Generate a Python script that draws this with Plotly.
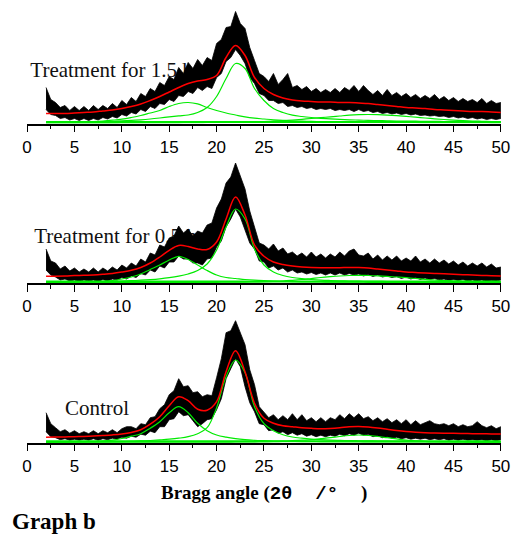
import plotly.graph_objects as go

# ---------------- data (intensity in arbitrary units) ----------------
X_FIT = list(range(2, 51))            # 2θ grid (1°) for fit curves
X_STEP_BAND = 0.5                      # 2θ grid step for the noisy-data envelope (starts at 2°)

PANEL_LABELS = ["Treatment for 1.5 h", "Treatment for 0.5 h", "Control"]
TICK_VALUES = [0, 5, 10, 15, 20, 25, 30, 35, 40, 45, 50]
TICK_LABELS = ["0", "5", "10", "15", "20", "25", "30", "35", "40", "45", "50"]

# --- Treatment for 1.5 h ---
raw_upper_15h = [36, 24, 21, 16, 18, 13, 17, 13, 17, 13,
                 18, 14, 18, 15, 20, 16, 23, 19, 26, 22,
                 30, 27, 35, 32, 41, 38, 47, 44, 56, 50,
                 61, 55, 64, 58, 66, 63, 80, 84, 96, 97,
                 112, 100, 95, 76, 63, 50, 47, 42, 50, 39,
                 44, 50, 36, 38, 34, 37, 32, 35, 31, 34,
                 31, 35, 31, 36, 33, 38, 32, 38, 33, 29,
                 33, 28, 34, 28, 31, 27, 30, 26, 29, 25,
                 28, 25, 29, 24, 27, 23, 26, 22, 25, 22,
                 24, 21, 25, 20, 23, 20, 21]
raw_lower_15h = [14, 9, 8, 5, 6, 3.5, 5, 3, 5, 3,
                 5, 3.5, 6, 4.5, 7, 5.5, 9, 7.5, 11, 9.5,
                 14, 12, 17, 15, 20, 19, 24, 22, 28, 27,
                 32, 30, 36, 33, 37, 35, 46, 50, 62, 66,
                 74, 68, 60, 46, 40, 30, 28, 23, 23, 20,
                 21, 17, 18, 16, 17, 15, 16, 14, 15, 14,
                 15, 13, 14, 13, 14, 12, 14, 12, 13, 11,
                 12, 10, 11, 9.5, 10.5, 9, 10, 8.5, 9.5, 8,
                 8.5, 7.5, 8, 7, 7.5, 6, 7, 5.5, 6.5, 5,
                 6, 4.5, 5.5, 4, 5, 4, 5]
fit_15h = [10, 10, 10, 10.5, 11, 11.5, 12.5, 13.5, 15, 17,
           19.5, 23, 27, 31.5, 36, 40, 42.5, 44, 48, 66,
           78, 68, 46, 35, 29, 25.5, 23.5, 22.5, 22, 21.5,
           21.5, 21, 21, 20.5, 20, 19, 18, 17, 16, 15.5,
           15, 14, 13.5, 13, 12.5, 12, 12, 11.5, 11]
peak16_15h = [1, 1.1, 1.2, 1.4, 1.7, 2, 2.5, 3.3, 4.3, 6,
              8, 10.5, 13, 17, 20, 21, 19.6, 16, 13, 10.5,
              8.5, 6.6, 5.3, 4.5, 3.7, 3.1, 2.7, 2.4, 2.1, 1.9,
              1.7, 1.6, 1.5, 1.4, 1.3, 1.2, 1.1, 1.1, 1, 1,
              0.9, 0.9, 0.9, 0.8, 0.8, 0.8, 0.8, 0.7, 0.7]
peak22_15h = [1, 1.1, 1.2, 1.4, 1.5, 1.7, 1.9, 2.2, 2.6, 3.1,
              3.7, 4.5, 5.5, 6.6, 7.6, 8.5, 11, 16, 27, 45,
              60, 55, 35, 23, 15, 11, 8.3, 7, 6, 5.2,
              4.6, 4.1, 3.7, 3.4, 3.1, 2.9, 2.7, 2.5, 2.4, 2.3,
              2.2, 2.1, 2, 1.9, 1.8, 1.7, 1.7, 1.6, 1.6]
peak35_15h = [0.3, 0.3, 0.3, 0.3, 0.3, 0.4, 0.4, 0.4, 0.5, 0.5,
              0.5, 0.6, 0.6, 0.7, 0.7, 0.8, 0.9, 1, 1.1, 1.2,
              1.3, 1.5, 1.7, 2, 2.4, 2.9, 3.5, 4.2, 5, 5.8,
              6.7, 7.5, 8.3, 8.8, 9, 8.8, 8.4, 7.8, 7.1, 6.3,
              5.5, 4.7, 4, 3.4, 2.9, 2.5, 2.2, 1.9, 1.6]
flat_15h = [1.4, 1.4]

# --- Treatment for 0.5 h ---
raw_upper_05h = [34, 22, 20, 14, 17, 12, 15, 11, 14, 11,
                 15, 11, 15, 12, 16, 13, 18, 15, 20, 17,
                 24, 21, 30, 28, 38, 36, 45, 47, 57, 50,
                 54, 47, 52, 50, 58, 60, 75, 84, 100, 106,
                 120, 108, 94, 72, 56, 40, 38, 34, 39, 32,
                 35, 29, 31, 27, 30, 26, 31, 26, 29, 25,
                 29, 26, 31, 27, 32, 34, 28, 27, 30, 24,
                 28, 23, 27, 23, 27, 22, 25, 22, 27, 21,
                 24, 20, 24, 20, 23, 19, 22, 18, 21, 17,
                 20, 17, 20, 16, 19, 15, 16]
raw_lower_05h = [13, 8, 6, 3, 4, 2, 3, 1.5, 3, 2,
                 3, 1.5, 3.5, 2, 4, 3, 5.5, 4, 7, 5.5,
                 9.5, 8, 13, 11, 17, 15, 21, 21, 27, 24,
                 24, 20, 20, 18, 24, 25, 36, 42, 56, 64,
                 74, 66, 54, 40, 34, 22, 21, 15, 17, 13,
                 15, 11, 13, 10, 11, 9, 10.5, 8.5, 10, 8,
                 10, 8, 10, 8, 9.5, 8, 9, 7, 8.5, 6.5,
                 8, 6, 7, 5.5, 6.5, 4.5, 6, 4, 5.5, 3.5,
                 5, 3.5, 4.5, 3, 4, 2.5, 3.5, 2.5, 3.5, 2,
                 3, 2, 3, 1.5, 2.5, 2, 3]
fit_05h = [6.7, 6.8, 7, 7.4, 7.7, 8, 8.7, 9.6, 11, 12.7,
           15.5, 20, 26, 32.7, 37.5, 36.5, 34, 33.5, 41, 64,
           86, 68, 38, 26.7, 21, 18.5, 17, 16, 15.4, 15.2,
           15.2, 15.3, 15.5, 15.4, 15, 14, 13, 12, 11, 10.5,
           10, 9.6, 9.2, 8.7, 8.3, 8, 7.6, 7.3, 7]
peak16_05h = [0.5, 0.6, 0.7, 0.8, 1, 1.3, 1.7, 2.5, 4, 6,
              9, 13.5, 18, 23, 26.7, 23.5, 18, 12.5, 8, 5.5,
              4.5, 3.5, 2.8, 2.3, 1.9, 1.6, 1.4, 1.2, 1.1, 1,
              0.9, 0.85, 0.8, 0.75, 0.7, 0.65, 0.6, 0.6, 0.55, 0.55,
              0.5, 0.5, 0.5, 0.45, 0.45, 0.45, 0.4, 0.4, 0.4]
peak22_05h = [0.8, 0.85, 0.9, 1, 1.1, 1.2, 1.4, 1.6, 1.9, 2.3,
              2.8, 3.4, 4.2, 5.3, 6.8, 9, 12.5, 19, 33, 56,
              74, 64, 34, 18, 11, 7.5, 5.5, 4.3, 3.5, 2.9,
              2.5, 2.2, 2, 1.8, 1.7, 1.6, 1.5, 1.4, 1.3, 1.25,
              1.2, 1.15, 1.1, 1.05, 1, 0.95, 0.9, 0.9, 0.85]
peak35_05h = [0.2, 0.2, 0.2, 0.2, 0.25, 0.25, 0.3, 0.3, 0.3, 0.35,
              0.35, 0.4, 0.4, 0.45, 0.5, 0.55, 0.6, 0.65, 0.7, 0.75,
              0.8, 0.9, 1.1, 1.3, 1.6, 2, 2.7, 3.5, 4.5, 5.5,
              6.3, 7, 7.5, 7.7, 7.5, 7.2, 6.7, 6, 5.3, 4.5,
              3.7, 3, 2.5, 2, 1.7, 1.4, 1.2, 1.1, 1]
flat_05h = [1.4, 1.4]

# --- Control ---
raw_upper_ctrl = [30, 19, 15, 11, 13, 9.5, 12, 9, 11, 9,
                  12, 9, 12, 10, 13, 10, 14, 16, 16, 14,
                  19, 18, 25, 26, 34, 38, 48, 52, 64, 56,
                  57, 50, 51, 46, 48, 47, 65, 84, 110, 112,
                  122, 110, 98, 73, 58, 36, 31, 25, 28, 23,
                  27, 23, 29, 23, 28, 22, 25, 21, 25, 21,
                  25, 23, 28, 24, 29, 25, 29, 24, 26, 22,
                  25, 21, 24, 20, 23, 19, 23, 18, 22, 18,
                  20, 22, 19, 18, 19, 17, 19, 16, 18, 16,
                  17, 21, 17, 15, 17, 14, 16]
raw_lower_ctrl = [11, 6, 5, 3, 4, 2.5, 3.5, 2.5, 3.5, 2.5,
                  4, 2.5, 4, 3, 4.5, 3.5, 5.5, 4.5, 6.5, 5.5,
                  8.5, 7.5, 11.5, 10, 16, 16, 23, 24, 31, 27,
                  28, 22, 16, 19, 23, 24, 33, 44, 64, 74,
                  84, 76, 56, 40, 31, 19, 18, 12, 13, 9.5,
                  11, 8, 10, 7.5, 9, 6.5, 8, 6, 7.5, 6,
                  7.5, 6.5, 8.5, 7, 9, 7.5, 9.5, 7.5, 8.5, 6,
                  7, 5, 6, 4.5, 5.5, 4, 5, 3.5, 4.5, 3.5,
                  4.5, 3, 4, 3, 4, 2.5, 3.5, 2.5, 3.5, 2.5,
                  3, 2.5, 3, 2, 3, 2, 3]
fit_ctrl = [5.4, 5.6, 5.8, 6, 6.3, 6.7, 7.2, 7.8, 8.7, 10.3,
            13, 18.5, 26, 37, 46, 42, 33.5, 32.5, 41, 71,
            92, 71, 39.5, 24.4, 19.5, 17, 16, 15, 14.4, 14,
            14.3, 15, 16, 16.3, 15.8, 14.8, 13.5, 12.2, 11.2, 10.5,
            10, 9.7, 9.5, 9.4, 9.2, 9, 8.9, 8.8, 8.7]
peak16_ctrl = [0.4, 0.5, 0.6, 0.7, 0.9, 1.1, 1.5, 2.5, 4.2, 6.5,
               9, 14.5, 21, 30, 36, 30, 19.4, 12, 7.7, 5.5,
               4, 3, 2.4, 2, 1.7, 1.5, 1.3, 1.1, 1, 0.9,
               0.85, 0.8, 0.75, 0.7, 0.65, 0.6, 0.6, 0.55, 0.55, 0.5,
               0.5, 0.5, 0.45, 0.45, 0.45, 0.4, 0.4, 0.4, 0.4]
peak22_ctrl = [0.5, 0.55, 0.6, 0.7, 0.75, 0.8, 0.9, 1, 1.15, 1.3,
               1.8, 2.2, 2.8, 3.5, 4.5, 6, 9, 15, 35, 66,
               82.7, 70, 36, 19, 12, 8, 5.7, 4.5, 3.6, 3,
               2.6, 2.35, 2.1, 1.95, 1.8, 1.7, 1.5, 1.45, 1.3, 1.25,
               1.2, 1.1, 1.05, 1, 0.95, 0.9, 0.85, 0.85, 0.8]
peak35_ctrl = [0.2, 0.2, 0.2, 0.2, 0.2, 0.2, 0.2, 0.2, 0.2, 0.2,
               0.2, 0.2, 0.2, 0.2, 0.25, 0.25, 0.3, 0.3, 0.35, 0.4,
               0.45, 0.5, 0.6, 0.8, 1, 1.4, 2, 2.5, 3, 4,
               5, 6.2, 7.2, 7.7, 7.2, 6.2, 5, 3.8, 2.6, 1.9,
               1.3, 1, 0.8, 0.6, 0.5, 0.45, 0.4, 0.35, 0.3]
flat_ctrl = [1.4, 1.4]

# label anchor positions (data units of each panel)
LABEL_X = [0.34, 0.75, 4.0]
LABEL_Y = [52, 45, 33]

# ---------------- figure ----------------
W, H = 523, 535
AXIS_PX = [123.5, 283.0, 442.7]   # pixel row of each panel's x axis
PANEL_H = 123                      # pixel height of each panel (= y range)
X_LEFT, X_RIGHT = 22.7, 509.5

panels = [
    dict(up=raw_upper_15h, lo=raw_lower_15h, fit=fit_15h, peaks=[peak16_15h, peak22_15h, peak35_15h], flat=flat_15h),
    dict(up=raw_upper_05h, lo=raw_lower_05h, fit=fit_05h, peaks=[peak16_05h, peak22_05h, peak35_05h], flat=flat_05h),
    dict(up=raw_upper_ctrl, lo=raw_lower_ctrl, fit=fit_ctrl, peaks=[peak16_ctrl, peak22_ctrl, peak35_ctrl], flat=flat_ctrl),
]

fig = go.Figure()
GREEN = "rgb(0,235,0)"
for i, p in enumerate(panels):
    xa = "x" if i == 0 else f"x{i+1}"
    ya = "y" if i == 0 else f"y{i+1}"
    # label under the data
    fig.add_trace(go.Scatter(x=[LABEL_X[i]], y=[LABEL_Y[i]], mode="text", text=[PANEL_LABELS[i]],
                             textposition="middle right",
                             textfont=dict(family="Liberation Serif", size=21, color="#111"),
                             xaxis=xa, yaxis=ya, showlegend=False, hoverinfo="skip"))
    # noisy raw data envelope
    n = min(len(p["up"]), len(p["lo"]))
    xb = [2 + X_STEP_BAND * k for k in range(n)]
    fig.add_trace(go.Scatter(x=xb + xb[::-1], y=p["up"][:n] + p["lo"][:n][::-1],
                             mode="lines", fill="toself", fillcolor="black",
                             line=dict(color="black", width=0.8),
                             xaxis=xa, yaxis=ya, showlegend=False, hoverinfo="skip"))
    # green component peaks
    fig.add_trace(go.Scatter(x=[2, 50], y=p["flat"], mode="lines",
                             line=dict(color=GREEN, width=2),
                             xaxis=xa, yaxis=ya, showlegend=False))
    for pk in p["peaks"]:
        fig.add_trace(go.Scatter(x=X_FIT, y=pk, mode="lines", line=dict(color=GREEN, width=1.2, shape="spline"),
                                 xaxis=xa, yaxis=ya, showlegend=False))
    # red fit
    fig.add_trace(go.Scatter(x=X_FIT, y=p["fit"], mode="lines", line=dict(color="red", width=1.5, shape="spline"),
                             xaxis=xa, yaxis=ya, showlegend=False))

layout = dict(
    width=W, height=H, margin=dict(l=0, r=0, t=0, b=0),
    paper_bgcolor="white", plot_bgcolor="white", showlegend=False,
)
for i in range(3):
    xk = "xaxis" if i == 0 else f"xaxis{i+1}"
    yk = "yaxis" if i == 0 else f"yaxis{i+1}"
    ya = "y" if i == 0 else f"y{i+1}"
    xa = "x" if i == 0 else f"x{i+1}"
    bottom = 1 - AXIS_PX[i] / H
    top = min(1.0, 1 - (AXIS_PX[i] - PANEL_H) / H)
    layout[xk] = dict(domain=[X_LEFT / W, X_RIGHT / W], range=[0, 50], anchor=ya,
                      showline=True, linecolor="black", linewidth=1.5, showgrid=False, zeroline=False,
                      ticks="outside", ticklen=7, tickwidth=1.3, tickcolor="black",
                      tickvals=TICK_VALUES, ticktext=TICK_LABELS,
                      minor=dict(dtick=2.5, tick0=0, ticks="outside", ticklen=4, tickwidth=1.2, tickcolor="black", showgrid=False),
                      tickfont=dict(family="Liberation Sans", size=17, color="black"))
    layout[yk] = dict(domain=[bottom, top], range=[0, PANEL_H], anchor=xa, visible=False)

fig.update_layout(**layout)
fig.add_annotation(x=266 / W, y=1 - 493.3 / H, xref="paper", yref="paper", showarrow=False,
                   xanchor="center", yanchor="middle",
                   text="<b>Bragg angle (<span style='font-family:\"Liberation Mono\"'>2θ&nbsp;&nbsp;/°&nbsp;&nbsp;</span>)</b>",
                   font=dict(family="Liberation Serif", size=19, color="black"))
fig.add_annotation(x=5 / W, y=1 - 521.7 / H, xref="paper", yref="paper", showarrow=False,
                   xanchor="left", yanchor="middle", text="<b>Graph b</b>",
                   font=dict(family="Liberation Serif", size=23, color="black"))
fig.write_html("out.html")
